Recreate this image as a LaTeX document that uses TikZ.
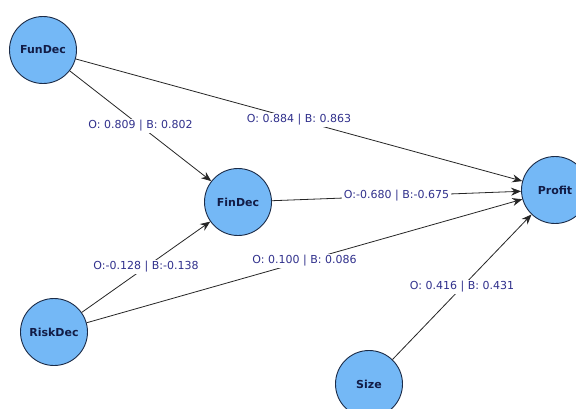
\documentclass[tikz,border=0pt]{standalone}
\usepackage{fontspec}
\setmainfont{DejaVu Sans}
\usetikzlibrary{arrows.meta}
\definecolor{varfill}{RGB}{116,184,246}
\definecolor{varline}{RGB}{28,44,72}
\definecolor{vartext}{RGB}{18,28,70}
\definecolor{coeftext}{RGB}{48,48,140}
\tikzset{lnk/.style={draw=black!85, line width=0.8pt, -{Stealth[length=10pt, width=8pt]}},
  var/.style={circle, draw=varline, line width=0.9pt, fill=varfill, minimum size=67pt, inner sep=0pt,
    font=\fontsize{11}{13}\selectfont\bfseries, text=vartext},
  coef/.style={fill=white, inner sep=1.5pt, font=\fontsize{11}{13}\selectfont, text=coeftext}}

\begin{document}
\begin{tikzpicture}[x=1pt, y=-1pt]
  \useasboundingbox[fill=white] (0,0) rectangle (576,408);
  \node[var] (fun)  at (43,50)   {FunDec};
  \node[var] (fin)  at (238,202) {FinDec};
  \node[var] (risk) at (54,332)  {RiskDec};
  \node[var] (size) at (369,384) {Size};
  \node[var] (prof) at (555,190) {Profit};
  \draw[lnk] (fun)  -- node[coef] {O: 0.809 | B: 0.802} (fin);
  \draw[lnk] (fun)  -- node[coef] {O: 0.884 | B: 0.863} (prof);
  \draw[lnk] (fin)  -- node[coef] {O:-0.680 | B:-0.675} (prof);
  \draw[lnk] (risk) -- node[coef] {O:-0.128 | B:-0.138} (fin);
  \draw[lnk] (risk) -- node[coef] {O: 0.100 | B: 0.086} (prof);
  \draw[lnk] (size) -- node[coef] {O: 0.416 | B: 0.431} (prof);
\end{tikzpicture}
\end{document}
